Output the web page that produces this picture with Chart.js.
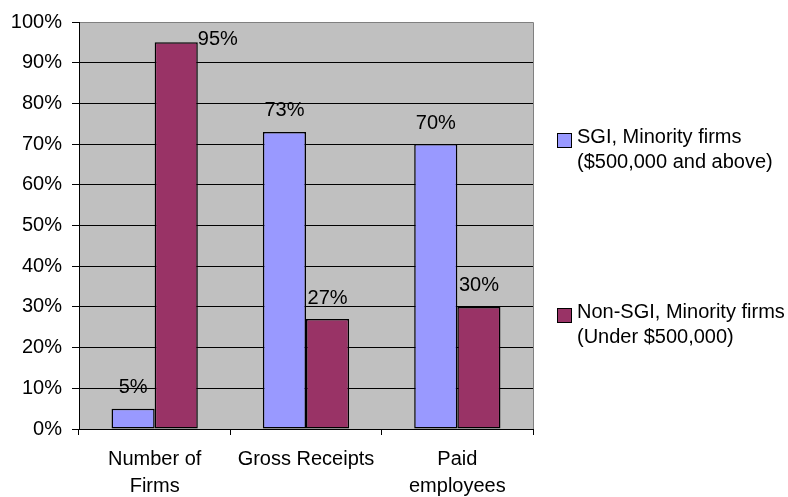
<!DOCTYPE html>
<html>
<head>
<meta charset="utf-8">
<script src="https://cdn.jsdelivr.net/npm/chart.js@4/dist/chart.umd.min.js"></script>
<style>
  html, body { margin: 0; padding: 0; background: #fff; }
  #wrap { width: 788px; height: 497px; }
</style>
</head>
<body>
<div id="wrap"><canvas id="barChart" width="788" height="497"></canvas></div>
<script>
// data
const categories = [['Number of', 'Firms'], 'Gross Receipts', ['Paid', 'employees']]
const sgiValues = [5, 73, 70]
const nonSgiValues = [95, 27, 30]
const seriesNames = [
    ['SGI, Minority firms', '($500,000 and above)'],
    ['Non-SGI, Minority firms', '(Under $500,000)']
]
const yTicks = [0, 10, 20, 30, 40, 50, 60, 70, 80, 90, 100]

const FONT = "'Liberation Sans', Arial, sans-serif"
const colors = ['#9999FF', '#993366']

// gray plot area with gray top/right border
const plotBackground = {
    id: 'plotBackground',
    beforeDraw(chart) {
        const {ctx, chartArea: a} = chart
        ctx.save()
        ctx.fillStyle = '#C0C0C0'
        ctx.fillRect(a.left, a.top, a.right - a.left, a.bottom - a.top)
        ctx.strokeStyle = '#808080'
        ctx.lineWidth = 1
        ctx.beginPath()
        ctx.moveTo(Math.round(a.left) + 0.5, Math.round(a.top) + 0.5)
        ctx.lineTo(Math.round(a.right) + 0.5, Math.round(a.top) + 0.5)
        ctx.lineTo(Math.round(a.right) + 0.5, Math.round(a.bottom) + 0.5)
        ctx.stroke()
        ctx.restore()
    }
}

// value labels above the bars
const valueLabels = {
    id: 'valueLabels',
    afterDatasetsDraw(chart) {
        const {ctx, chartArea: a} = chart
        ctx.save()
        ctx.font = '20px ' + FONT
        ctx.fillStyle = '#000'
        ctx.textBaseline = 'middle'
        chart.data.datasets.forEach((ds, i) => {
            chart.getDatasetMeta(i).data.forEach((bar, j) => {
                const text = ds.data[j] + '%'
                let y = bar.y - 21
                if (y - 10 < a.top) {
                    // no room above: put it beside the bar
                    ctx.textAlign = 'left'
                    ctx.fillText(text, bar.x + bar.width / 2, bar.y - 3)
                } else {
                    ctx.textAlign = 'center'
                    ctx.fillText(text, bar.x, y)
                }
            })
        })
        ctx.restore()
    }
}

// two-line legend on the right
const sideLegend = {
    id: 'sideLegend',
    afterDraw(chart) {
        const {ctx} = chart
        ctx.save()
        ctx.font = '20px ' + FONT
        ctx.textAlign = 'left'
        ctx.textBaseline = 'middle'
        chart.data.datasets.forEach((ds, i) => {
            const y0 = 137 + i * 175
            ctx.fillStyle = ds.backgroundColor
            ctx.fillRect(557, y0 - 4, 15, 15)
            ctx.strokeStyle = '#000'
            ctx.lineWidth = 1
            ctx.strokeRect(557.5, y0 - 3.5, 14, 14)
            ctx.fillStyle = '#000'
            seriesNames[i].forEach((line, k) => {
                ctx.fillText(line, 577, y0 + k * 25)
            })
        })
        ctx.restore()
    }
}

new Chart(document.getElementById('barChart'), {
    type: 'bar',
    data: {
        labels: categories,
        datasets: [{
            label: seriesNames[0].join(' '),
            data: sgiValues,
            backgroundColor: colors[0],
            borderColor: '#000',
            borderWidth: 1.5,
            borderSkipped: false,
            categoryPercentage: 0.57,
            barPercentage: 1
        }, {
            label: seriesNames[1].join(' '),
            data: nonSgiValues,
            backgroundColor: colors[1],
            borderColor: '#000',
            borderWidth: 1.5,
            borderSkipped: false,
            categoryPercentage: 0.57,
            barPercentage: 1
        }]
    },
    options: {
        responsive: false,
        animation: false,
        devicePixelRatio: 1,
        layout: { padding: { top: 15, right: 255, left: 0, bottom: 0 } },
        plugins: {
            legend: { display: false },
            tooltip: { enabled: false },
            title: { display: false }
        },
        scales: {
            x: {
                offset: true,
                grid: {
                    offset: true,
                    drawOnChartArea: false,
                    drawTicks: true,
                    tickLength: 6,
                    color: '#000'
                },
                border: { color: '#000', width: 1 },
                ticks: {
                    color: '#000',
                    font: { family: FONT, size: 20, lineHeight: 1.35 },
                    padding: 11,
                    maxRotation: 0,
                    autoSkip: false
                },
                afterFit(scale) { scale.height = 68 }
            },
            y: {
                min: 0,
                max: 100,
                afterBuildTicks(scale) { scale.ticks = yTicks.map(v => ({value: v})) },
                grid: {
                    color: c => (c.tick && c.tick.value === 100) ? '#808080' : '#000',
                    tickColor: '#000',
                    tickLength: 7,
                    lineWidth: 1
                },
                border: { color: '#000', width: 1 },
                ticks: {
                    color: '#000',
                    font: { family: FONT, size: 20 },
                    padding: 10,
                    callback: v => v + '%'
                },
                afterFit(scale) { scale.width = 79 }
            }
        }
    },
    plugins: [plotBackground, valueLabels, sideLegend]
})
</script>
</body>
</html>
